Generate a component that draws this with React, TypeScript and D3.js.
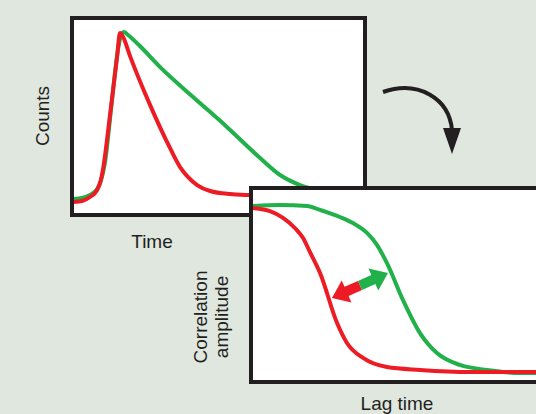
import * as d3 from 'd3'

// time trace (panel 1), counts in % of panel height
const timeRed = [0, 2.8, 5.5, 8.0, 9.3, 10.0, 12.5, 14.9, 15.9, 17.0, 19.4, 26.3, 33.2, 36.7, 39.4, 42.6, 47.1, 54.0, 60.9, 78.2, 100]
const countsRed = [5.7, 6.2, 8.3, 11.9, 17.1, 22.3, 51.3, 80.8, 93.3, 91.2, 81.3, 56.0, 33.7, 23.8, 18.7, 14.5, 11.4, 9.8, 9.3, 8.8, 8.8]
const timeGreen = [0, 2.8, 5.5, 8.0, 9.3, 10.7, 12.8, 15.2, 16.3, 17.3, 18.7, 22.8, 29.8, 41.2, 52.9, 64.4, 71.3, 78.2, 88.6, 100]
const countsGreen = [7.3, 7.8, 9.3, 12.4, 16.6, 25.9, 53.4, 84.5, 92.2, 93.8, 92.2, 86.5, 75.6, 60.1, 44.6, 28.5, 19.7, 14.5, 10.9, 9.3]

// correlation curves (panel 2)
const lagRed = [0, 6.0, 10.6, 14.8, 17.7, 20.1, 23.7, 29.7, 33.2, 38.9, 47.3, 59.0, 76.7, 100]
const corrRed = [90.5, 88.9, 85.3, 80.0, 74.7, 67.4, 56.3, 30.0, 19.5, 11.6, 6.8, 5.3, 4.2, 4.2]
const lagGreen = [0, 9.5, 19.1, 23.7, 30.7, 35.3, 40.3, 43.8, 47.3, 53.0, 59.0, 65.0, 73.1, 82.7, 94.3, 100]
const corrGreen = [91.6, 92.1, 91.6, 89.5, 85.8, 82.6, 77.4, 71.1, 61.6, 42.1, 24.7, 14.2, 7.9, 5.3, 3.7, 3.7]

// double arrow between the two curves: [lag, corr]
const arrowFrom = [27.9, 43.2]
const arrowTo = [47.7, 56.3]

const RED = '#ed1c24'
const GREEN = '#22b04b'
const INK = '#231f20'
const BG = '#e0e7df'
const FONT = 'Liberation Sans, Arial, Helvetica, sans-serif'

const W = 536
const H = 414

// panel boxes (stroke centres)
const p1 = { x: 72, y: 18, w: 293, h: 197 }
const p2 = { x: 251, y: 188, w: 330, h: 194 }

type Pt = [number, number]

const App = () => {
  const x1 = d3.scaleLinear().domain([0, 100]).range([74, 363])
  const y1 = d3.scaleLinear().domain([0, 100]).range([213, 20])
  const x2 = d3.scaleLinear().domain([0, 100]).range([253, 536])
  const y2 = d3.scaleLinear().domain([0, 100]).range([380, 190])

  const line1 = d3
    .line<Pt>()
    .x((d) => x1(d[0]))
    .y((d) => y1(d[1]))
    .curve(d3.curveMonotoneX)
  const line2 = d3
    .line<Pt>()
    .x((d) => x2(d[0]))
    .y((d) => y2(d[1]))
    .curve(d3.curveMonotoneX)

  const redCounts = line1(timeRed.map((t, i) => [t, countsRed[i]] as Pt)) || ''
  const greenCounts = line1(timeGreen.map((t, i) => [t, countsGreen[i]] as Pt)) || ''
  const redCorr = line2(lagRed.map((t, i) => [t, corrRed[i]] as Pt)) || ''
  const greenCorr = line2(lagGreen.map((t, i) => [t, corrGreen[i]] as Pt)) || ''

  // double-headed arrow polygons
  const a0: Pt = [x2(arrowFrom[0]), y2(arrowFrom[1])]
  const a1: Pt = [x2(arrowTo[0]), y2(arrowTo[1])]
  const dx = a1[0] - a0[0]
  const dy = a1[1] - a0[1]
  const len = Math.sqrt(dx * dx + dy * dy)
  const u: Pt = [dx / len, dy / len]
  const n: Pt = [-u[1], u[0]]
  const hl = 16
  const hw = 12
  const sw = 5
  const at = (p: Pt, a: number, b: number): string =>
    `${p[0] + u[0] * a + n[0] * b},${p[1] + u[1] * a + n[1] * b}`
  const mid = len / 2
  const redArrow = [
    at(a0, 0, 0),
    at(a0, hl, hw),
    at(a0, hl, sw),
    at(a0, mid, sw),
    at(a0, mid, -sw),
    at(a0, hl, -sw),
    at(a0, hl, -hw),
  ].join(' ')
  const greenArrow = [
    at(a0, len, 0),
    at(a0, len - hl, hw),
    at(a0, len - hl, sw),
    at(a0, mid, sw),
    at(a0, mid, -sw),
    at(a0, len - hl, -sw),
    at(a0, len - hl, -hw),
  ].join(' ')

  return (
    <svg
      width={W}
      height={H}
      viewBox={`0 0 ${W} ${H}`}
      style={{ position: 'fixed', left: 0, top: 0, display: 'block' }}
    >
      <defs>
        <clipPath id="clip1">
          <rect x={p1.x + 2} y={p1.y + 2} width={p1.w - 4} height={p1.h - 4} />
        </clipPath>
        <clipPath id="clip2">
          <rect x={p2.x + 2} y={p2.y + 2} width={p2.w - 4} height={p2.h - 4} />
        </clipPath>
      </defs>
      <rect x={0} y={0} width={W} height={H} fill={BG} />

      {/* panel 1: counts vs time */}
      <rect x={p1.x} y={p1.y} width={p1.w} height={p1.h} fill="#fff" stroke={INK} strokeWidth={4} />
      <g clipPath="url(#clip1)" fill="none" strokeWidth={4} strokeLinejoin="round">
        <path d={greenCounts} stroke={GREEN} />
        <path d={redCounts} stroke={RED} />
      </g>
      <text
        transform="translate(49,116) rotate(-90)"
        textAnchor="middle"
        fontFamily={FONT}
        fontSize={19}
        fill={INK}
      >
        Counts
      </text>
      <text x={152} y={248} textAnchor="middle" fontFamily={FONT} fontSize={19} fill={INK}>
        Time
      </text>

      {/* curved arrow */}
      <path d="M383,92 C418,80 449,98 452,130" fill="none" stroke={INK} strokeWidth={4} />
      <polygon points="443,128 461,128 452,154" fill={INK} />

      {/* panel 2: correlation vs lag time */}
      <rect x={p2.x} y={p2.y} width={p2.w} height={p2.h} fill="#fff" stroke={INK} strokeWidth={4} />
      <g clipPath="url(#clip2)" fill="none" strokeWidth={4} strokeLinejoin="round">
        <path d={greenCorr} stroke={GREEN} />
        <path d={redCorr} stroke={RED} />
      </g>
      <polygon points={redArrow} fill={RED} />
      <polygon points={greenArrow} fill={GREEN} />

      <text
        transform="translate(207,317) rotate(-90)"
        textAnchor="middle"
        fontFamily={FONT}
        fontSize={19}
        fill={INK}
      >
        <tspan x={0} dy={0}>Correlation</tspan>
        <tspan x={0} dy={21}>amplitude</tspan>
      </text>
      <text x={397} y={410} textAnchor="middle" fontFamily={FONT} fontSize={19} fill={INK}>
        Lag time
      </text>
    </svg>
  )
}

export default App
